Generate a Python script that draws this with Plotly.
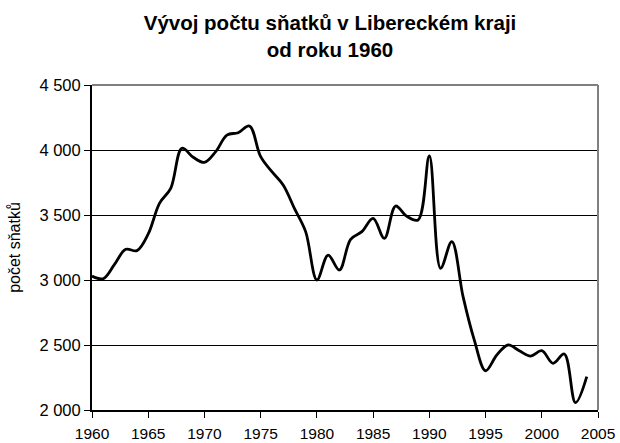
import plotly.graph_objects as go

years = list(range(1960, 2005))
marriages = [3030, 3010, 3120, 3236, 3226, 3354, 3590, 3705, 4013, 3944,
             3905, 3987, 4115, 4133, 4185, 3949, 3833, 3731, 3551, 3372,
             3000, 3192, 3077, 3313, 3372, 3474, 3320, 3569, 3490, 3462,
             3954, 3090, 3295, 2872, 2538, 2302, 2423, 2500, 2456, 2415,
             2456, 2359, 2431, 2056, 2256]

x_ticks = list(range(1960, 2006, 5))
y_ticks = [2000, 2500, 3000, 3500, 4000, 4500]
y_tick_labels = ["2 000", "2 500", "3 000", "3 500", "4 000", "4 500"]

title_text = "<b>Vývoj počtu sňatků v Libereckém kraji<br>od roku 1960</b>"
y_title = "počet sňatků"

FONT = "Liberation Sans, Arial, sans-serif"

fig = go.Figure()
fig.add_trace(go.Scatter(
    x=years, y=marriages, mode="lines",
    line=dict(color="black", width=2.8, shape="spline", smoothing=1.0),
    hoverinfo="skip", showlegend=False,
))

fig.update_layout(
    width=620, height=443,
    margin=dict(l=92, r=22, t=85, b=33),
    paper_bgcolor="white", plot_bgcolor="white",
    font=dict(family=FONT, color="black", size=16),
    title=dict(text=title_text, x=330/620, xanchor="center", xref="container",
               y=1 - 30/443, yanchor="top", yref="container",
               font=dict(size=20.5, family=FONT, color="black")),
)

fig.update_xaxes(
    range=[1960, 2005], tickmode="array", tickvals=x_ticks,
    ticks="outside", ticklen=6, tickwidth=1, tickcolor="black",
    showline=True, linecolor="black", linewidth=2, mirror=False,
    showgrid=False, zeroline=False, automargin=False,
    tickfont=dict(size=15.5), ticklabelstandoff=2,
)
fig.update_yaxes(
    range=[2000, 4500], tickmode="array", tickvals=y_ticks, ticktext=y_tick_labels,
    ticks="outside", ticklen=6, tickwidth=1, tickcolor="black",
    showline=True, linecolor="black", linewidth=2, mirror=False,
    showgrid=True, gridcolor="black", gridwidth=1, zeroline=False, automargin=False,
    tickfont=dict(size=16.5),
    title=dict(text=y_title, font=dict(size=16), standoff=15),
)

# grey frame on top and right
fig.add_shape(type="line", xref="paper", yref="paper", x0=0, x1=1, y0=1, y1=1,
              line=dict(color="#808080", width=2))
fig.add_shape(type="line", xref="paper", yref="paper", x0=1, x1=1, y0=0, y1=1,
              line=dict(color="#808080", width=2))

fig.write_html("out.html", config={"displayModeBar": False},
               post_script="document.body.style.margin='0';document.body.style.overflow='hidden';")
